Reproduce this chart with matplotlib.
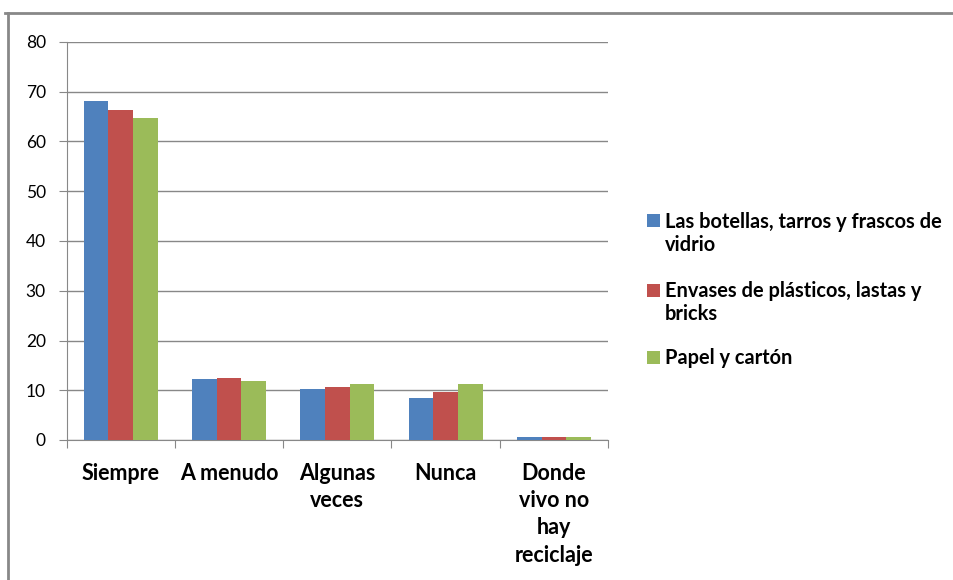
import matplotlib
matplotlib.use("Agg")
import matplotlib.pyplot as plt
import numpy as np
from matplotlib.lines import Line2D
from matplotlib.patches import Rectangle

categories = ["Siempre", "A menudo", "Algunas\nveces", "Nunca", "Donde\nvivo no\nhay\nreciclaje"]
series_names = ["Las botellas, tarros y frascos de\nvidrio",
                "Envases de plásticos, lastas y\nbricks",
                "Papel y cartón"]
vidrio = [68.2, 12.2, 10.3, 8.5, 0.7]
plastico = [66.4, 12.4, 10.6, 9.6, 0.7]
papel = [64.8, 11.9, 11.2, 11.2, 0.7]
colors = ["#4f81bd", "#c0504d", "#9bbb59"]
yticks = [0, 10, 20, 30, 40, 50, 60, 70, 80]

plt.rcParams['font.family'] = ['Lato', 'DejaVu Sans']

W, H = 954, 580
fig = plt.figure(figsize=(W/100, H/100), dpi=100)
ax = fig.add_axes([66.7/W, 1-440/H, (608-66.7)/W, 398/H])

x = np.arange(len(categories))
w = 0.228
for i, (vals, c, name) in enumerate(zip([vidrio, plastico, papel], colors, series_names)):
    ax.bar(x + (i-1)*w, vals, width=w, color=c, label=name, zorder=3)

ax.set_xlim(-0.5, len(categories)-0.5)
ax.set_ylim(0, 80)
ax.set_yticks(yticks)
ax.set_yticklabels([str(v) for v in yticks], fontsize=12.5)
ax.yaxis.grid(True, color="#888888", linewidth=1, zorder=0)
ax.set_axisbelow(True)
ax.set_xticks(np.arange(len(categories)+1)-0.5, minor=False)
ax.set_xticklabels([])
ax.set_xticks(x, minor=True)
ax.set_xticklabels(categories, minor=True, fontsize=15.5, fontweight='bold', linespacing=1.37)
ax.tick_params(axis='x', which='minor', length=0, pad=16.5)
ax.tick_params(axis='x', which='major', length=6, color="#888888", direction='out')
ax.tick_params(axis='y', length=6, color="#888888", direction='out', pad=9)
for s in ["top", "right"]:
    ax.spines[s].set_visible(False)
for s in ["left", "bottom"]:
    ax.spines[s].set_color("#888888")

# legend drawn manually
leg_y = [221, 290, 357]
for c, name, yc in zip(colors, series_names, leg_y):
    fig.add_artist(Rectangle((647/W, 1-(yc+6.5)/H), 13/W, 13/H, facecolor=c,
                             edgecolor='none', transform=fig.transFigure))
    fig.text(665/W, 1-(yc-9)/H, name, fontsize=14.4, fontweight='bold', va='top', ha='left',
             linespacing=1.2)

fig.add_artist(Line2D([5/W, 1], [1-13/H, 1-13/H], color="#888888", linewidth=2, transform=fig.transFigure))
fig.add_artist(Line2D([8/W, 8/W], [0, 1-13/H], color="#888888", linewidth=2, transform=fig.transFigure))

fig.savefig("out.png", dpi=100)
